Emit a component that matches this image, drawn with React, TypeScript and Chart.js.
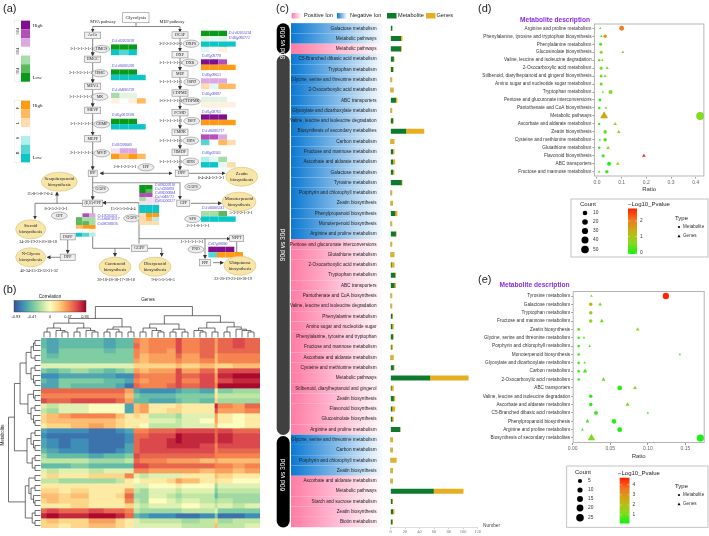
import React, { useEffect, useRef } from "react";
import { Chart, registerables } from "chart.js";
Chart.register(...registerables);

const SANS = "'Liberation Sans', Arial, sans-serif";
const SERIF = "'Liberation Serif', serif";

/* ---------- panel (c) ---------- */
const cLabels = ["Galactose metabolism","Metabolic pathways","Metabolic pathways","C5-Branched dibasic acid metabolism","Tryptophan metabolism","Glycine, serine and threonine metabolism","2-Oxocarboxylic acid metabolism","ABC transporters","Glyoxylate and dicarboxylate metabolism","Valine, leucine and isoleucine degradation","Biosynthesis of secondary metabolites","Carbon metabolism","Fructose and mannose metabolism","Ascorbate and aldarate metabolism","Galactose metabolism","Tyrosine metabolism","Porphyrin and chlorophyll metabolism","Zeatin biosynthesis","Phenylpropanoid biosynthesis","Monoterpenoid biosynthesis","Arginine and proline metabolism","Pentose and glucuronate interconversions","Glutathione metabolism","2-Oxocarboxylic acid metabolism","Tryptophan metabolism","ABC transporters","Pantothenate and CoA biosynthesis","Valine, leucine and isoleucine degradation","Phenylalanine metabolism","Amino sugar and nucleotide sugar","Phenylalanine, tyrosine and tryptophan","Fructose and mannose metabolism","Ascorbate and aldarate metabolism","Cysteine and methionine metabolism","Metabolic pathways","Stilbenoid, diarylheptanoid and gingerol","Zeatin biosynthesis","Flavonoid biosynthesis","Glucosinolate biosynthesis","Arginine and proline metabolism","Glycine, serine and threonine metabolism","Carbon metabolism","Porphyrin and chlorophyll metabolism","Zeatin biosynthesis","Ascorbate and aldarate metabolism","Metabolic pathways","Starch and sucrose metabolism","Zeatin biosynthesis","Biotin metabolism"];
const cIon = ["n","n","p","n","n","n","n","n","n","n","n","n","n","n","n","n","n","n","n","n","n","p","p","p","p","p","p","p","p","p","p","p","p","p","p","p","p","p","p","p","n","n","n","n","p","p","p","p","p"];
const cMetabolite = [2,14,14,4,3,0,0,7,0,3,21,0,3,3,3,15,0,0,6,0,7,0,0,1,6,5,0,0,2,2,3,1,0,4,54,1,4,2,2,13,0,0,0,0,0,59,2,3,2];
const cGenes = [0,2,1,1,1,2,4,2,2,1,25,5,2,3,2,1,2,3,3,2,1,2,5,4,1,2,2,2,1,2,1,2,4,1,53,3,2,4,2,0,3,3,8,3,3,41,1,2,1];
const cTicks = [0, 20, 40, 60, 80, 100, 120];

/* ---------- panel (d) ---------- */
const dLabels = ["Arginine and proline metabolism","Phenylalanine, tyrosine and tryptophan biosynthesis","Phenylalanine metabolism","Glucosinolate biosynthesis","Valine, leucine and isoleucine degradation","2-Oxocarboxylic acid metabolism","Stilbenoid, diarylheptanoid and gingerol biosynthesis","Amino sugar and nucleotide sugar metabolism","Tryptophan metabolism","Pentose and glucuronate interconversions","Pantothenate and CoA biosynthesis","Metabolic pathways","Ascorbate and aldarate metabolism","Zeatin biosynthesis","Cysteine and methionine metabolism","Glutathione metabolism","Flavonoid biosynthesis","ABC transporters","Fructose and mannose metabolism"];
const dMetRow = [0,1,2,3,4,5,6,7,8,9,10,11,12,13,14,15,16,17,18];
const dMetRatio = [0.1,0.033,0.015,0.017,0.009,0.017,0.017,0.017,0.055,0.012,0.009,0.418,0.009,0.033,0.033,0.009,0.025,0.049,0.04];
const dMetCount = [14,5,3,3,1,3,3,3,8,2,1,53,1,5,5,1,4,7,5];
const dMetLogP = [1.9,1.5,0.4,0.7,0.5,0.6,0.5,0.4,0.6,0.2,0.3,0.6,0.3,0.4,0.35,0.3,0.3,0.05,0.3];
const dGenRow = [0,1,3,4,5,6,8,10,11,12,13,14,15,16,17,18];
const dGenRatio = [0.013,0.018,0.105,0.022,0.041,0.033,0.024,0.036,0.029,0.074,0.088,0.012,0.045,0.19,0.084,0.009];
const dGenCount = [1,1,2,1,4,3,1,2,53,5,5,1,6,6,5,1];
const dGenLogP = [0.2,0.2,0.8,0.2,0.7,0.6,0.2,0.5,1.4,0.8,0.8,0.2,0.7,2.6,0.9,0.2];

/* ---------- panel (e) ---------- */
const eLabels = ["Tyrosine metabolism","Galactose metabolism","Tryptophan metabolism","Fructose and mannose metabolism","Zeatin biosynthesis","Glycine, serine and threonine metabolism","Porphyrin and chlorophyll metabolism","Monoterpenoid biosynthesis","Glyoxylate and dicarboxylate metabolism","Carbon metabolism","2-Oxocarboxylic acid metabolism","ABC transporters","Valine, leucine and isoleucine degradation","Ascorbate and aldarate metabolism","C5-Branched dibasic acid metabolism","Phenylpropanoid biosynthesis","Arginine and proline metabolism","Biosynthesis of secondary metabolites"];
const eMetRow = [0,1,2,3,4,5,6,7,8,9,10,11,12,13,14,15,16,17];
const eMetRatio = [0.124,0.024,0.024,0.024,0.008,0.008,0.008,0.008,0.008,0.008,0.008,0.0626,0.024,0.024,0.031,0.055,0.0626,0.17];
const eMetCount = [16,3,3,3,1,1,1,1,1,1,1,8,3,3,4,7,8,22];
const eMetLogP = [4.5,2,1.5,1.2,0.5,0.5,0.5,0.4,0.5,0.5,0.5,0.3,0.3,0.3,0.3,0.15,0.1,0.1];
const eGenRow = [0,1,3,4,5,6,7,8,9,10,11,13,14,15,16,17];
const eGenRatio = [0.025,0.0365,0.0387,0.0865,0.015,0.0226,0.1426,0.016,0.0165,0.041,0.083,0.073,0.1,0.0196,0.013,0.025];
const eGenCount = [1,3,4,4,1,1,1,1,6,4,4,5,1,4,1,24];
const eGenLogP = [0.8,0.9,0.7,1.2,0.5,0.7,0.8,0.6,0.5,0.7,0.9,0.9,0.9,0.4,0.3,1.0];

/* ---------- panel (b) ---------- */
const heatColumnSpans = [2,4,4,6,5,4,3,3,2,3,6,3,2,6,5,1,5,4,5];
const heatRows = [
[-5,-6,-5,-5,-5,-6,-5,-5,5,4,5,5,7,5,6,4,6,7,6],
[-5,-6,-5,-5,-5,-6,-5,-5,6,4,5,5,7,5,6,4,6,7,6],
[-4,-6,-4,-4,-4,-5,-4,-4,5,4,5,4,7,5,6,4,6,6,6],
[-4,-5,-4,-4,-4,-4,-4,-4,5,3,4,4,6,4,6,3,5,5,5],
[-4,-4,-4,-4,-4,-4,-4,-4,4,3,4,4,5,4,5,3,5,5,5],
[-1,-1,-1,-1,-1,-1,-1,-1,2,2,2,2,3,2,3,2,2,3,3],
[-4,-5,-4,-3,-4,-5,-4,-3,4,3,4,4,7,4,6,3,7,7,7],
[-7,-7,-6,-6,-6,-6,-7,-7,6,5,5,5,7,6,7,4,8,9,9],
[-5,-6,-4,-4,-4,-5,-5,-6,5,4,5,5,7,5,7,4,7,8,8],
[-6,-6,-4,-5,-5,-5,-6,-8,6,5,5,6,7,6,7,5,9,9,9],
[6,6,6,6,6,6,6,4,-6,-7,-7,-7,-6,-5,-6,1,-4,-3,-3],
[5,5,5,5,5,5,5,3,-4,-5,-5,-5,-4,-4,-4,1,-2,-2,-2],
[7,6,6,7,7,7,6,4,-5,-5,-6,-6,-5,-4,-5,2,-3,-3,-3],
[-1,-2,-1,-1,0,0,0,-6,3,4,1,1,2,1,1,8,5,4,6],
[-2,-3,-1,-1,0,0,0,-6,3,4,1,2,2,1,1,7,4,4,5],
[2,3,4,5,5,5,3,1,2,1,-2,-2,-3,-1,-1,4,1,0,1],
[2,3,3,3,3,3,2,1,1,1,-1,-1,-2,-1,0,4,1,0,1],
[1,2,2,3,4,3,2,1,1,0,-2,-2,-2,-1,-1,3,0,0,1],
[-6,-7,-7,-7,-8,-8,-7,-6,5,5,6,6,7,7,7,6,7,6,6],
[-7,-8,-8,-8,-8,-8,-8,-7,6,6,7,7,9,8,8,6,8,7,7],
[-6,-7,-8,-7,-8,-8,-8,-7,6,7,7,8,9,8,8,6,8,7,7],
[-6,-7,-8,-7,-8,-8,-8,-6,6,7,7,8,8,8,7,5,7,7,7],
[-5,-6,-7,-7,-8,-8,-7,-6,6,7,7,7,7,7,7,5,6,6,6],
[-3,-5,-5,-5,-6,-5,-5,-4,7,6,6,6,6,6,6,5,5,5,5],
[-2,-2,-2,-2,-3,-3,-3,-2,6,5,5,4,4,4,3,4,3,3,3],
[-5,-5,-5,-4,-5,-5,-5,-5,7,7,6,6,6,6,6,5,5,4,5],
[-1,-2,-1,-1,-2,-1,-1,-1,5,5,4,4,4,4,3,4,4,3,4],
[1,2,1,1,2,2,2,5,-1,-2,-1,-1,-1,1,1,3,2,1,1],
[-2,-2,-3,-3,-3,-3,-2,1,0,1,1,2,4,3,1,2,1,0,0],
[1,1,1,1,1,1,1,1,-1,-1,0,0,1,0,0,-3,-1,-1,-1],
[2,2,1,2,1,1,1,4,-2,-3,-1,-1,-2,-1,-1,-4,-2,-2,-2],
[3,3,2,3,1,1,2,6,-3,-3,-1,-2,-3,-2,-2,-5,-3,-3,-3],
[2,3,2,2,1,1,1,5,-2,-3,0,-1,-2,-1,-2,-3,-2,-3,-3],
[1,1,1,2,1,1,1,2,-1,-2,-1,-1,-1,0,-1,-2,-1,-2,-1],
[6,7,6,6,7,6,6,5,-2,-3,-3,-3,-3,-2,-2,-1,-4,-4,-4],
[8,9,8,8,9,9,8,6,-5,-6,-7,-7,-8,-8,-7,-4,-8,-8,-7],
[2,3,2,2,4,4,2,1,-1,-2,-2,-2,-2,-3,-2,2,-3,-2,-2],
[2,2,1,2,3,3,2,1,-1,-1,-1,-1,-1,-2,-2,3,-2,-2,-1],
];
const heatTicks = ["-0.93","-0.47","0","0.47","0.93"];

const topLeftTree = [[[[0,1],[2,[3,4]]],[[5,6],[7,[8,9]]]],[[[10,11],[12,13]],[14,15]]];
const topRightTree = [[[[16,17],[18,[19,20]]],[[21,22],[23,24]]],[[[25,[26,27]],[28,29]],[[30,31],[32,[33,[34,35]]]]]];
const topTree = [topLeftTree, topRightTree];
const rowA = [[[[0,1],2],[3,4]],[[5,6],[7,[8,9]]]];
const rowB = [[10,[11,12]],[[13,14],[15,[16,17]]]];
const rowC = [[[18,19],[20,[21,22]]],[[23,24],[25,26]]];
const rowD = [[[27,28],[[29,30],[31,[32,33]]]],[[34,35],[36,37]]];
const leftTree = [[[rowA,rowB],rowC],rowD];

/* ---------- colours ---------- */
const spectral = ["#3b4fa0","#3f8fb8","#6bc4a4","#b6e2a0","#fdfdbf","#fdd080","#f98e52","#dc4a4c","#a3002a"];
function hexRgb(h: string) { return [1, 3, 5].map((i) => parseInt(h.slice(i, i + 2), 16)); }
function ramp(stops: string[], t: number) {
  const c = Math.max(0, Math.min(1, t)) * (stops.length - 1);
  const i = Math.min(stops.length - 2, Math.floor(c));
  const a = hexRgb(stops[i]), b = hexRgb(stops[i + 1]), f = c - i;
  return `rgb(${a.map((v, k) => Math.round(v + (b[k] - v) * f)).join(",")})`;
}
const pStops = ["#12f012","#8cd820","#c8b010","#f07820","#ff2000"];
const dRadius = (n: number) => 0.75 + 0.45 * Math.sqrt(n);
const eRadius = (n: number) => 0.7 + 0.62 * Math.sqrt(n);

function bubbleConfig(o: any) {
  const { labels, left, right, top, bottom, canvasLeft, canvasTop, canvasW, canvasH, xMin, xMax, step, digits, met, gen, pMax, radius } = o;
  const build = (s: any) => s.row.map((y: number, i: number) => ({ x: s.ratio[i], y, r: radius(s.count[i]) * (s.tri ? 1.15 : 1) }));
  const colors = (s: any) => s.logp.map((v: number) => ramp(pStops, v / pMax));
  const border = {
    id: "panelBorder",
    afterDatasetsDraw(c: any) {
      const a = c.chartArea; const x = c.ctx;
      x.save(); x.strokeStyle = "#b5b5b5"; x.lineWidth = 1;
      x.strokeRect(a.left + 0.5, a.top + 0.5, a.right - a.left - 1, a.bottom - a.top - 1); x.restore();
    },
  };
  return {
    type: "bubble",
    plugins: [border],
    data: {
      datasets: [
        { label: "Metabolite", data: build(met), backgroundColor: colors(met), borderWidth: 0, pointStyle: "circle", clip: false },
        { label: "Genes", data: build({ ...gen, tri: true }), backgroundColor: colors(gen), borderWidth: 0, pointStyle: "triangle", clip: false },
      ],
    },
    options: {
      responsive: false, animation: false,
      layout: { padding: { top: top - canvasTop, right: canvasLeft + canvasW - right, left: 0, bottom: 0 } },
      plugins: { legend: { display: false }, tooltip: { enabled: false } },
      scales: {
        x: {
          type: "linear", min: xMin, max: xMax, afterFit: (s: any) => { s.height = canvasTop + canvasH - bottom; },
          grid: { drawOnChartArea: false, tickLength: 2, color: "#999" }, border: { display: false },
          title: { display: true, text: "Ratio", color: "#333", font: { family: SANS, size: 6 }, padding: 0 },
          ticks: { stepSize: step, includeBounds: false, color: "#666", padding: 1, maxRotation: 0, font: { family: SANS, size: 5 }, callback: (v: number) => v.toFixed(digits) },
        },
        y: {
          type: "linear", reverse: true, min: -0.6, max: labels.length - 0.4, afterFit: (s: any) => { s.width = left - canvasLeft; },
          grid: { drawOnChartArea: false, tickLength: 1.5, color: "#999" }, border: { display: false },
          ticks: { stepSize: 1, includeBounds: false, autoSkip: false, color: "#333", padding: 1, font: { family: SANS, size: 4.7 }, callback: (v: number) => labels[Math.round(v)] ?? "" },
        },
      },
    },
  };
}

/* ---------- charts ---------- */
function useChart(make: () => any) {
  const ref = useRef<HTMLCanvasElement>(null);
  useEffect(() => {
    const ch = new Chart(ref.current as any, make());
    return () => ch.destroy();
  }, []);
  return ref;
}
const abs = (l: number, t: number): React.CSSProperties => ({ position: "absolute", left: l, top: t, display: "block" });

function PanelC() {
  const L = 285;
  const ref = useChart(() => ({
    type: "bar",
    plugins: [{
      id: "ionCells",
      beforeDraw(c: any) {
        const y = c.scales.y; const x = c.ctx; const h = (y.bottom - y.top) / cLabels.length;
        const x0 = 291 - L, x1 = 385 - L;
        cIon.forEach((t, i) => {
          const g = x.createLinearGradient(x0, 0, x1, 0);
          g.addColorStop(0, t === "n" ? "#0a78d2" : "#ff7ba6");
          g.addColorStop(1, "#ffffff");
          x.fillStyle = g;
          x.fillRect(x0, y.getPixelForValue(i) - h / 2, x1 - x0, h);
        });
      },
    }],
    data: {
      labels: cLabels,
      datasets: [
        { label: "Metabolite", data: cMetabolite, backgroundColor: "#0e7a2e", barThickness: 4.4, stack: "s" },
        { label: "Genes", data: cGenes, backgroundColor: "#e8ae22", barThickness: 4.4, stack: "s" },
      ],
    },
    options: {
      indexAxis: "y", responsive: false, animation: false,
      layout: { padding: { top: 23.15, right: 500 - 477.7, left: 0, bottom: 0 } },
      plugins: { legend: { display: false }, tooltip: { enabled: false } },
      scales: {
        x: {
          stacked: true, min: 0, max: 120, afterFit: (s: any) => { s.height = 8.5; },
          afterBuildTicks: (s: any) => { s.ticks = cTicks.map((value) => ({ value })); },
          grid: { drawOnChartArea: false, tickLength: 1.5, color: "#bbb" }, border: { color: "#ddd" },
          ticks: { color: "#777", padding: 0, maxRotation: 0, font: { family: SERIF, size: 4.5 } },
        },
        y: {
          stacked: true, afterFit: (s: any) => { s.width = 105.5; },
          grid: { display: false }, border: { display: false },
          ticks: { autoSkip: false, padding: 6, color: "#222", font: { family: SANS, size: 4.65 } },
        },
      },
    },
  }));
  return <canvas ref={ref} width={215} height={536} style={abs(L, 0)} />;
}

function PanelD() {
  const ref = useChart(() => bubbleConfig({
    labels: dLabels, left: 594, right: 707, top: 23.5, bottom: 176.5, canvasLeft: 470, canvasTop: 10, canvasW: 239, canvasH: 183,
    xMin: -0.012, xMax: 0.435, step: 0.1, digits: 1, pMax: 2.6, radius: dRadius,
    met: { row: dMetRow, ratio: dMetRatio, count: dMetCount, logp: dMetLogP },
    gen: { row: dGenRow, ratio: dGenRatio, count: dGenCount, logp: dGenLogP },
  }));
  return <canvas ref={ref} width={239} height={183} style={abs(470, 10)} />;
}

function PanelE() {
  const ref = useChart(() => bubbleConfig({
    labels: eLabels, left: 572.7, right: 707.3, top: 291, bottom: 443, canvasLeft: 470, canvasTop: 285, canvasW: 239, canvasH: 175,
    xMin: 0, xMax: 0.1757, step: 0.05, digits: 2, pMax: 4.6, radius: eRadius,
    met: { row: eMetRow, ratio: eMetRatio, count: eMetCount, logp: eMetLogP },
    gen: { row: eGenRow, ratio: eGenRatio, count: eGenCount, logp: eGenLogP },
  }));
  return <canvas ref={ref} width={239} height={175} style={abs(470, 285)} />;
}

function PanelBHeat() {
  const ref = useChart(() => {
    const idx: number[] = [];
    heatColumnSpans.forEach((n, b) => { for (let k = 0; k < n; k++) idx.push(b); });
    return {
      type: "bar",
      data: {
        labels: idx.map((_, i) => String(i)),
        datasets: heatRows.map((row) => ({
          data: idx.map(() => 1),
          backgroundColor: idx.map((b) => ramp(spectral, (row[b] / 9.3 + 1) / 2)),
          borderWidth: 0, categoryPercentage: 1, barPercentage: 1, stack: "h",
        })),
      },
      options: {
        responsive: false, animation: false,
        layout: { padding: 0 },
        plugins: { legend: { display: false }, tooltip: { enabled: false } },
        scales: {
          x: { display: false, stacked: true },
          y: { display: false, stacked: true, reverse: true, min: 0, max: heatRows.length },
        },
      },
    };
  });
  return <canvas ref={ref} width={219} height={190} style={abs(41, 338)} />;
}

/* ---------- svg helpers ---------- */
function T({ x, y, s = 4.4, a = "start", c = "#222", f = SERIF, b, i, r, children }: any) {
  return (
    <text x={x} y={y} fontSize={s} textAnchor={a} fill={c} fontFamily={f} fontWeight={b ? "bold" : "normal"} fontStyle={i ? "italic" : "normal"}
      dominantBaseline="middle" transform={r ? `rotate(${r} ${x} ${y})` : undefined}>{children}</text>
  );
}
function Box({ x, y, t, w = 16 }: any) {
  return <g><rect x={x - w / 2} y={y - 3.2} width={w} height={6.4} fill="#efefef" stroke="#8a8a8a" strokeWidth={0.6} /><T x={x} y={y} a="middle" s={4}>{t}</T></g>;
}
function Oval({ x, y, t, rx = 8 }: any) {
  return <g><ellipse cx={x} cy={y} rx={rx} ry={3.6} fill="#ececec" stroke="#8a8a8a" strokeWidth={0.6} /><T x={x} y={y} a="middle" s={4}>{t}</T></g>;
}
function Big({ x, y, t1, t2, rx = 16 }: any) {
  return <g><ellipse cx={x} cy={y} rx={rx} ry={9.5} fill="#f8e5a8" stroke="#dcc67e" strokeWidth={0.7} />
    <T x={x} y={y - 3} a="middle" s={4.6}>{t1}</T><T x={x} y={y + 3} a="middle" s={4.6}>{t2}</T></g>;
}
function Ln({ d, arrow, w = 0.8, c = "#666", start }: any) {
  return <path d={d} fill="none" stroke={c} strokeWidth={w} markerEnd={arrow ? "url(#ah)" : undefined} markerStart={start ? "url(#ahs)" : undefined} />;
}
const G3="#0a9a1a",G2="#5cb85c",G1="#a6dca6",G0="#e3f3e3",P3="#800f8f",P2="#b44fb8",P1="#dba9df",P0="#efe0f0",O3="#ff9a14",O2="#ffb95e",O1="#ffdcb0",O0="#fff0e0",C3="#0cc6c6",C2="#55d6d0",C1="#b0efec",C0="#e0f8f6",W="#ffffff";
function Tiles({ x, y, w = 8.67, h = 5.4, rows }: any) {
  return <g>{rows.map((r: string[], j: number) => r.map((c, i) => <rect key={j + "-" + i} x={x + i * w} y={y + j * h} width={w} height={h} fill={c} stroke={c === W ? "#eee" : "none"} strokeWidth={0.3} />))}</g>;
}
const ID = ({ x, y, children, a }: any) => <T x={x} y={y} s={3.8} c="#4a3fd0" i a={a}>{children}</T>;

function Dendro({ tree, total, leafPos, rootEdge, span, horizontal }: any) {
  const segs: string[] = [];
  const walk = (n: any): { p: number; h: number; c: number } => {
    if (typeof n === "number") return { p: leafPos(n), h: rootEdge, c: 1 };
    const a = walk(n[0]); const b = walk(n[1]);
    const c = a.c + b.c;
    const h = rootEdge - span * Math.pow(c / total, 0.6);
    segs.push(horizontal
      ? `M${a.h} ${a.p}H${h}V${b.p}H${b.h}`
      : `M${a.p} ${a.h}V${h}H${b.p}V${b.h}`);
    return { p: (a.p + b.p) / 2, h, c };
  };
  walk(tree);
  return <path d={segs.join("")} fill="none" stroke="#333" strokeWidth={0.7} />;
}

function Legend({ box, countX, countY, countTitleY, counts, cbar, cticks, titleX, titleY, typeY }: any) {
  return <g>
    <rect x={box[0]} y={box[1]} width={box[2]} height={box[3]} fill="#fff" stroke="#b5b5b5" strokeWidth={0.8} />
    <T x={countX - 5} y={countTitleY} s={6} f={SANS}>Count</T>
    {counts.map((n: any, i: number) => <g key={i}><circle cx={countX} cy={countY[i]} r={n[1]} fill="#000" /><T x={countX + 8} y={countY[i]} s={4.8} f={SANS} c="#333">{n[0]}</T></g>)}
    <T x={titleX} y={titleY} s={6} f={SANS}>−Log10_Pvalue</T>
    <rect x={cbar[0]} y={cbar[1]} width={cbar[2]} height={cbar[3]} fill="url(#pv)" />
    {cticks.map((t: any, i: number) => <g key={i}><path d={`M${cbar[0]} ${t[1]}h2M${cbar[0] + cbar[2] - 2} ${t[1]}h2`} stroke="#fff" strokeWidth={0.4} /><T x={cbar[0] + cbar[2] + 3} y={t[1]} s={4.8} f={SANS} c="#333">{t[0]}</T></g>)}
    <T x={675} y={typeY} s={6} f={SANS}>Type</T>
    <circle cx={679} cy={typeY + 9} r={1.1} fill="#000" /><T x={683} y={typeY + 9} s={4.6} f={SANS} c="#333">Metabolite</T>
    <path d={`M679 ${typeY + 16.6}l1.5 2.6h-3z`} fill="#000" /><T x={683} y={typeY + 18} s={4.6} f={SANS} c="#333">Genes</T>
  </g>;
}

function PathwayA() {
  const mva = 92.7, mep = 180;
  const nums = "1-1-1-1-1-1-1";
  return <g>
    {/* colour keys */}
    <rect x={14.3} y={20.7} width={15.7} height={61} fill="#fff" stroke="#ddd" strokeWidth={0.4} />
    {[P3,P2,P1,W,G1,G2,G3].map((c, i) => <rect key={c} x={21} y={20.7 + i * 8.71} width={9} height={8.71} fill={c} />)}
    <T x={17.5} y={31} a="middle" r={-90} s={4.5}>90d</T><T x={17.5} y={51} a="middle" r={-90} s={4.5}>60d</T><T x={17.5} y={71} a="middle" r={-90} s={4.5}>30d</T>
    <T x={32.5} y={26} s={5}>High</T><T x={32.5} y={78} s={5}>Low</T>
    <rect x={14.3} y={100.7} width={15.7} height={61.6} fill="#fff" stroke="#ddd" strokeWidth={0.4} />
    {[O3,O2,O1,W,C1,C2,C3].map((c, i) => <rect key={c + i} x={21} y={100.7 + i * 8.8} width={9} height={8.8} fill={c} />)}
    {["F","L","S","R"].map((t, i) => <T key={t} x={17.5} y={108 + i * 15} a="middle" r={-90} s={4.5}>{t}</T>)}
    <T x={32.5} y={106} s={5}>High</T><T x={32.5} y={158} s={5}>Low</T>

    {/* connectors */}
    <Ln d={`M136 22.7V26.5M${mva} 26.5H${mep}`} />
    <Ln d={`M${mva} 26.5V31.5`} arrow /><Ln d={`M${mep} 26.5V31.5`} arrow />
    {[[35.3,59.3],[59.3,86.3],[86.3,110.3],[110.3,138.7],[138.7,173.3],[173.3,203.3]].map(([a,b]) => <Ln key={a} d={`M${mva} ${a+3.2}V${b-4}`} arrow />)}
    {[[35,54.7],[54.7,74],[74,93],[93,112.7],[112.7,132.3],[132.3,152.3],[152.3,173.3]].map(([a,b]) => <Ln key={a} d={`M${mep} ${a+3.2}V${b-4}`} arrow />)}
    <Ln d="M100.5 173.3H171.5" arrow start />
    <Ln d="M189 173.3H224.5" arrow />
    <Ln d={`M${mva} 182.7H${mep}V198.8`} w={1.1} c="#999" arrow />
    <Ln d="M191 203.3H221" arrow />
    <Ln d="M139 203V243.5" /><Ln d="M139 202.7H103" arrow />
    <Ln d="M84 203.3H35V218.5" arrow />
    <Ln d="M57 203.3V192.5" arrow />
    <Ln d={`M${mva} 207V248.3H130`} />
    <Ln d="M115 248.3V256" arrow />
    <Ln d="M148 248.3H161.7V256" arrow />
    <Ln d="M139 238.7H229.5" arrow />
    <Ln d="M236.7 242V255" arrow />
    <Ln d="M205 238.7V258" arrow />
    <Ln d="M213 262.7H223" arrow />
    <Ln d="M67.7 240V253" arrow />
    <Ln d="M60 257.3H47.5" arrow />

    {/* top */}
    <rect x={122.7} y={12.7} width={26.3} height={10} fill="#fff" stroke="#8a8a8a" strokeWidth={0.6} />
    <T x={135.8} y={17.7} a="middle" s={4.8}>Glycolysis</T>
    <T x={103} y={21.5} a="middle">MVA pathway</T><T x={172} y={21.5} a="middle">MEP pathway</T>

    {/* MVA column */}
    <Box x={mva} y={35.3} t="AcCo" /><Box x={mva} y={59.3} t="HMGC" /><Box x={mva} y={86.3} t="MEVA" /><Box x={mva} y={110.3} t="MEVP" /><Box x={mva} y={138.7} t="MEPP" />
    <Oval x={101.7} y={49} t="HMGS" /><Oval x={100} y={73.3} t="HMG" /><Oval x={100} y={96.7} t="MK" /><Oval x={101.7} y={124.3} t="GHMP" /><Oval x={101.7} y={153.3} t="MVD" />
    <T x={93} y={49} a="end" s={4.2}>{nums}</T><T x={92} y={73.3} a="end" s={4.2}>2-1-1-2-1-1-1</T><T x={92} y={96.7} a="end" s={4.2}>{nums}</T><T x={93} y={124.3} a="end" s={4.2}>{nums}</T><T x={93} y={153.3} a="end" s={4.2}>2-1-1-1-1-1-1</T>
    <T x={125} y={166.7} a="middle" s={4.2}>2-0-1-2-2-1-1</T><Oval x={146} y={167.3} t="IPP" />
    <Box x={mva} y={173.3} t="IPP" w={9} /><Box x={181.7} y={173.3} t="DPP" w={13} />

    <ID x={111.7} y={40.7}>Cs1s02029330</ID>
    <Tiles x={111} y={44.4} rows={[[G3,G3,G3],[C3,C2,C3,W]]} />
    <ID x={111.7} y={66}>Cs1s06085260</ID>
    <Tiles x={111} y={69.4} rows={[[G3,G3,G3],[C3,C3,C3,C3]]} />
    <ID x={111.7} y={90}>Cs1s04085739</ID>
    <Tiles x={111} y={92.8} rows={[[G1,G0,G0],[O0,W,O0,O2]]} />
    <ID x={111.7} y={115.6}>Cs05g0019301</ID>
    <Tiles x={111} y={118.7} rows={[[G3,G3,G3],[C3,C3,C3,C3]]} />
    <ID x={111.7} y={145}>Cs03G00669</ID>
    <Tiles x={111} y={148.3} rows={[[P0,P1,P1],[O3,O2,O3,O2]]} />

    {/* MEP column */}
    <Box x={mep} y={35} t="DG3P" /><Box x={mep} y={54.7} t="DXP" /><Box x={mep} y={74} t="MEP" /><Box x={mep} y={93} t="CDPME" /><Box x={mep} y={112.7} t="PCMD" /><Box x={mep} y={132.3} t="CMDK" /><Box x={mep} y={152.3} t="HMDP" />
    <Oval x={191} y={43.7} t="DXPS" /><Oval x={190} y={62.7} t="DXR" /><Oval x={191.7} y={82} t="ISPD" /><Oval x={191} y={101.3} t="CTDPMK" rx={9.5} /><Oval x={191.7} y={121} t="ISPF" /><Oval x={190.7} y={140.7} t="HDS" /><Oval x={190.7} y={161.7} t="HDR" />
    {[[43.7,"3-2-2-2-2-2-2"],[62.7,nums],[82,nums],[101.3,"1-0-1-1-1-1-1"],[121,nums],[140.7,nums],[161.7,nums]].map(([y,t]: any) => <T key={y} x={182} y={y} a="end" s={4.2}>{t}</T>)}
    <ID x={228.7} y={33.3}>Cs1s02055334</ID><ID x={228.7} y={38.3}>Cs09g006712</ID>
    <Tiles x={201} y={30.7} rows={[[G3,G3,G3],[G0,C0,G0],[C3,C3,C3,C3],[C0,W,O0,W]]} />
    <ID x={201.7} y={56}>Cs07g00770</ID>
    <Tiles x={201} y={59.3} rows={[[P3,P3,P2],[O3,O3,O3,O3]]} />
    <ID x={201.7} y={75}>Cs09g00653</ID>
    <Tiles x={201} y={78.3} rows={[[P1,P1,P1],[O1,C0,O2,O2]]} />
    <ID x={201.7} y={94}>Cs03g00007</ID>
    <Tiles x={201} y={96.7} rows={[[G0,G0,G0],[O0,O0,O0,O0]]} />
    <ID x={201.7} y={111.7}>Cs01g08765</ID>
    <Tiles x={201} y={114.4} rows={[[P3,P3,P3],[O3,O3,O3,O3]]} />
    <ID x={201.7} y={131}>Cs1s06085717</ID>
    <Tiles x={201} y={134.4} rows={[[P2,P2,P1],[C2,W,O2,O1]]} />
    <ID x={201.7} y={153.3}>Cs09g02565</ID>
    <Tiles x={201} y={156.7} rows={[[C1,C0,G1],[C3,C3,C0,O1]]} />

    <Big x={241.7} y={176.7} t1="Zeatin" t2="biosynthesis" />
    <T x={211} y={178.3} a="middle" s={4.2}>6-4-4-4-5-3-3-1</T>
    <Oval x={192.7} y={186.7} t="GGPS" />
    <Big x={239} y={201.7} t1="Monoterpenoid" t2="biosynthesis" rx={17} />
    <Box x={183.3} y={203.3} t="GPP" w={13} />
    <ID x={201.7} y={208}>Cs1s06085341</ID>
    <Tiles x={201} y={211} rows={[[G1,G1,G2],[C3,C3,C3,C3]]} />
    <T x={241} y={213.3} a="middle" s={4.2}>5-3-2-2-1-3-1</T>
    <Oval x={192.7} y={219} t="SPS" />
    <T x={198} y={225.7} a="middle" s={4.2}>2-1-1-0-1-1-1</T>
    <Box x={236.7} y={238.3} t="NPPT" w={14} />
    <T x={192} y={242.3} a="middle" s={4.2}>1-1-1-1-1-1-1</T>
    <Oval x={196} y={249.3} t="PNO" />
    <ID x={208.3} y={244.3}>Cs07g00060</ID>
    <Tiles x={208.3} y={246.7} rows={[[P3,P3,P3],[C2,O3,O3,O3]]} />
    <Box x={205} y={262.7} t="PPP" w={11} />
    <Big x={240} y={265.7} t1="Ubiquinone" t2="biosynthesis" />
    <T x={233} y={279.3} a="middle" s={4.2}>22-20-19-21-18-18-19</T>

    {/* lower left */}
    <Oval x={100.7} y={189.3} t="GGPS" />
    <Box x={mva} y={203.3} t="(E,E)-FPP" w={20} />
    <Big x={59.3} y={181.7} t1="Sesquiterpenoid" t2="biosynthesis" rx={18} />
    <T x={40} y={193.7} a="middle" s={4.2}>25-8-5-8-7-6-4</T>
    <T x={56} y={209.3} a="middle" s={4.2}>8-3-3-2-2-3-1</T>
    <Oval x={59.3} y={215.7} t="CPT" />
    <Big x={30.7} y={229.3} t1="Steroid" t2="biosynthesis" rx={15} />
    <T x={38} y={241.7} a="middle" s={4.2}>34-20-19-21-20-18-18</T>
    <Big x={30.7} y={257.3} t1="N-Glycan" t2="biosynthesis" rx={15} />
    <T x={39} y={271} a="middle" s={4.2}>40-34-33-33-33-31-32</T>
    <Tiles x={76} y={213.3} w={6.5} h={3.9} rows={[[W,P2,P1],[G2,G1,G1],[G2,G2,G1],[O2,O3,O3],[W,W,O0],[C3,C2,C1]]} />
    <ID x={97.5} y={215.7}>Cs19G05031</ID><ID x={97.5} y={219.3}>Cs1b08G0317</ID><ID x={97.5} y={223.7}>Cs08G00836</ID>
    <Box x={67.7} y={236.7} t="D6PP" w={15} /><Box x={67.7} y={257.3} t="DPP" w={15} />
    <T x={123} y={209.3} a="middle" s={4.2}>15-5-5-5-6-4-4</T>
    <Oval x={131.7} y={218.3} t="GGPS" />
    <Tiles x={139.3} y={185} w={6.6} h={4} rows={[[G3,G3],[G3,G2],[P2,P2],[G1,P0,P0],[P0,P0,P0],[C3,C3,C3],[C3,C3,C3],[O1,O3,O3],[O1,O2,C1],[O1,O1,O1]]} />
    {["Cs09G02018","Cs1s020009","Cs09G00084","Cs1s049173","Cs05G00327"].map((t, i) => <ID key={t} x={155} y={185.5 + i * 4}>{t}</ID>)}
    <Box x={139.3} y={248.3} t="GGPP" w={16} />
    <Big x={115} y={266.7} t1="Carotenoid" t2="biosynthesis" />
    <Big x={155} y={266.7} t1="Diterpenoid" t2="biosynthesis" />
    <T x={116} y={280} a="middle" s={4.2}>20-18-18-18-17-18-18</T>
    <T x={163} y={280} a="middle" s={4.2}>9-6-5-5-5-8-3</T>
  </g>;
}

function Overlay() {
  const pillText = (x: number, y: number, t: string) => <T x={x} y={y} a="middle" r={-90} s={6.6} c="#fff" f={SANS}>{t}</T>;
  const heatW = 72;
  return (
    <svg width={709} height={536} style={{ position: "absolute", left: 0, top: 0, pointerEvents: "none" }}>
      <defs>
        <marker id="ah" markerWidth="4" markerHeight="4" refX="3" refY="2" orient="auto" markerUnits="userSpaceOnUse"><path d="M0 0L4 2L0 4z" fill="#333" /></marker>
        <marker id="ahs" markerWidth="4" markerHeight="4" refX="1" refY="2" orient="auto" markerUnits="userSpaceOnUse"><path d="M4 0L0 2L4 4z" fill="#333" /></marker>
        <linearGradient id="pink" x1="0" x2="1" y1="0" y2="0"><stop offset="0" stopColor="#ff7ba6" /><stop offset="1" stopColor="#fff" /></linearGradient>
        <linearGradient id="blue" x1="0" x2="1" y1="0" y2="0"><stop offset="0" stopColor="#0a78d2" /><stop offset="1" stopColor="#fff" /></linearGradient>
        <linearGradient id="pv" x1="0" x2="0" y1="1" y2="0">{pStops.map((c, i) => <stop key={c} offset={i / 4} stopColor={c} />)}</linearGradient>
        <linearGradient id="spec" x1="0" x2="1" y1="0" y2="0">{spectral.map((c, i) => <stop key={c} offset={i / 8} stopColor={c} />)}</linearGradient>
      </defs>

      <T x={3} y={9} s={11} f={SANS}>(a)</T>
      <T x={3} y={290} s={11} f={SANS}>(b)</T>
      <T x={276} y={9} s={11} f={SANS}>(c)</T>
      <T x={478} y={9} s={11} f={SANS}>(d)</T>
      <T x={478} y={280} s={11} f={SANS}>(e)</T>

      <PathwayA />

      {/* panel b furniture */}
      <T x={50} y={296.7} a="middle" s={4.6} f={SANS}>Correlation</T>
      <rect x={14} y={300.5} width={heatW} height={11.5} fill="url(#spec)" stroke="#333" strokeWidth={0.4} />
      {heatTicks.map((t, i) => <T key={t} x={14 + (i * heatW) / 4 + (i === 0 ? 2 : i === 4 ? -1 : 0)} y={316.5} a="middle" s={3.9} f={SANS}>{t}</T>)}
      <T x={148} y={300} a="middle" s={4.6} f={SANS}>Genes</T>
      <T x={3} y={435} a="middle" r={-90} s={4.6} f={SANS}>Metabolite</T>
      <Dendro tree={topTree} total={36} rootEdge={337.5} span={31} leafPos={(n: number) => 44 + n * 6} />
      <Dendro tree={leftTree} total={38} rootEdge={40.5} span={32} leafPos={(n: number) => 340.5 + n * 5} horizontal />

      {/* panel c furniture */}
      <rect x={291.7} y={13} width={10} height={5.5} fill="url(#pink)" />
      <T x={304} y={16} s={5.6} f={SANS}>Positive Ion</T>
      <rect x={337} y={13} width={10} height={5.5} fill="url(#blue)" />
      <T x={350} y={16} s={5.6} f={SANS}>Negative Ion</T>
      <rect x={387} y={13} width={9.5} height={5.5} fill="#0e7a2e" />
      <T x={398} y={16} s={5.6} f={SANS}>Metabolite</T>
      <rect x={426} y={13} width={9.5} height={5.5} fill="#e8ae22" />
      <T x={436.5} y={16} s={5.6} f={SANS}>Genes</T>
      <rect x={276.7} y={23.3} width={13} height={30.7} rx={6.5} fill="#000" />
      <rect x={276.7} y={55} width={13} height={380} rx={6.5} fill="#404040" />
      <rect x={276.7} y={436} width={13} height={91.5} rx={6.5} fill="#000" />
      {pillText(283.2, 43, "90d vs 60d")}
      {pillText(283.2, 245, "90d vs 30d")}
      {pillText(283.2, 475, "60d vs 30d")}
      <T x={483} y={526} s={4.8} f={SANS} c="#444">Number</T>

      {/* panel d, e furniture */}
      <T x={520} y={20.5} s={6.6} f={SANS} c="#8a2be2" b>Metabolite description</T>
      <T x={499.5} y={285.7} s={6.6} f={SANS} c="#8a2be2" b>Metabolite description</T>
      <Legend box={[571, 199, 137, 58]} countX={585} countY={[213,222,231,240,249.5]} countTitleY={204.5}
        counts={[[10,2.3],[20,2.8],[30,3.1],[40,3.5],[50,3.8]]} cbar={[628,208.5,9,45.5]} cticks={[["0",253],["1",236.5],["2",221]]} titleX={628} titleY={204.5} typeY={218} />
      <Legend box={[566.7, 466, 141.3, 61.3]} countX={580} countY={[481,490,499,508,517.7]} countTitleY={472}
        counts={[[5,2.1],[10,2.6],[15,3],[20,3.4],[25,3.8]]} cbar={[619.7,477.7,9.8,45.8]} cticks={[["4",484.7],["3",494.7],["2",505],["1",514.7]]} titleX={618} titleY={473.5} typeY={486} />
    </svg>
  );
}

export default function App() {
  useEffect(() => { document.body.style.margin = "0"; }, []);
  return (
    <div style={{ position: "absolute", left: 0, top: 0, width: 709, height: 536, background: "#fff", overflow: "hidden" }}>
      <PanelBHeat />
      <PanelC />
      <PanelD />
      <PanelE />
      <Overlay />
    </div>
  );
}
